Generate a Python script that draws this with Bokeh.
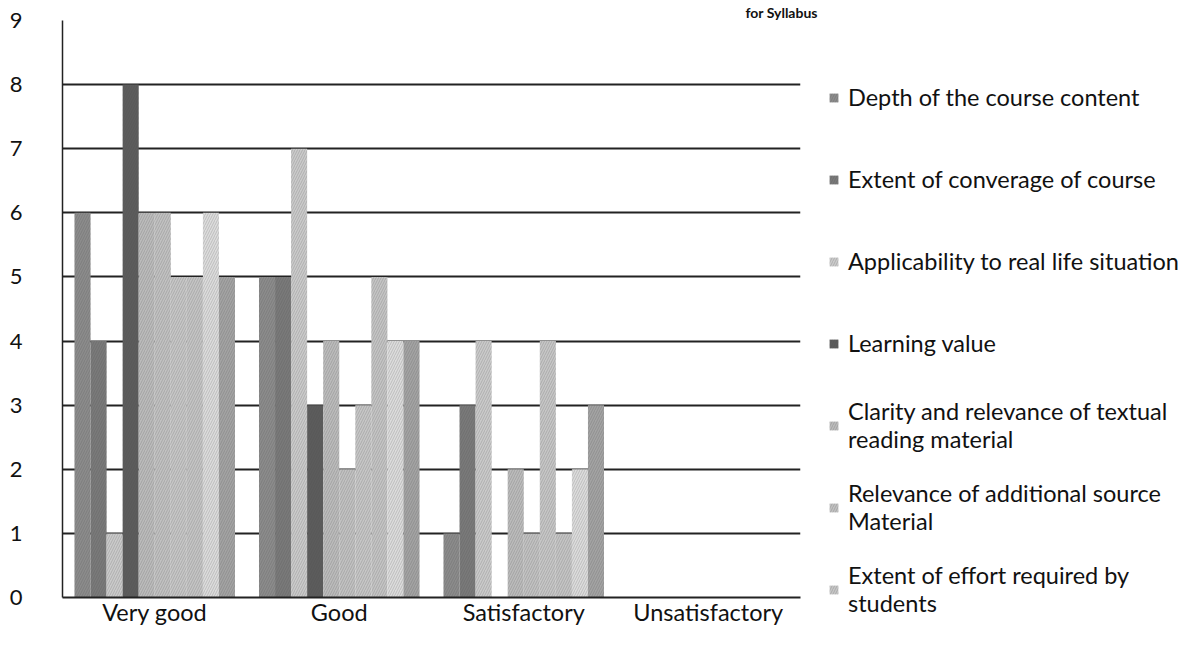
from bokeh.plotting import figure
from bokeh.models import FactorRange, FixedTicker, Legend, LegendItem, Title, ColumnDataSource
from bokeh.transform import dodge
from bokeh.embed import file_html
from bokeh.resources import INLINE

categories = ["Very good", "Good", "Satisfactory", "Unsatisfactory"]

series_names = [
    "Depth of the course content",
    "Extent of converage of course",
    "Applicability to real life situation",
    "Learning value",
    "Clarity and relevance of textual\nreading material",
    "Relevance of additional source\nMaterial",
    "Extent of effort required by\nstudents",
    "Series 8",
    "Series 9",
    "Series 10",
]

s1 = [6, 5, 1, 0]
s2 = [4, 5, 3, 0]
s3 = [1, 7, 4, 0]
s4 = [8, 3, 0, 0]
s5 = [6, 4, 2, 0]
s6 = [6, 2, 1, 0]
s7 = [5, 3, 4, 0]
s8 = [5, 5, 1, 0]
s9 = [6, 4, 2, 0]
s10 = [5, 4, 3, 0]

series_values = [s1, s2, s3, s4, s5, s6, s7, s8, s9, s10]
legend_count = 7

colors = ["#8c8c8c", "#7a7a7a", "#cbcbcb", "#5c5c5c", "#bcbcbc",
          "#c2c2c2", "#c7c7c7", "#c5c5c5", "#dddddd", "#a4a4a4"]
ticks = [0, 1, 2, 3, 4, 5, 6, 7, 8, 9]

FONT = "Lato"

p = figure(
    x_range=FactorRange(*categories, range_padding=0),
    y_range=(0, 9),
    frame_width=738,
    frame_height=577,
    output_backend="svg",
    toolbar_location=None,
    min_border_left=62,
    min_border_top=20,
    min_border_bottom=10,
    min_border_right=370,
)
p.outline_line_color = None
p.background_fill_color = "white"
p.border_fill_color = "white"

data = {"cat": categories}
for i, vals in enumerate(series_values):
    data[f"s{i}"] = vals
source = ColumnDataSource(data)

n = len(series_values)
bw = 0.087
renderers = []
for i in range(n):
    off = (i - (n - 1) / 2) * bw
    r = p.vbar(
        x=dodge("cat", off, range=p.x_range),
        top=f"s{i}",
        width=bw,
        source=source,
        fill_color=colors[i],
        line_color=None,
        hatch_pattern="right_diagonal_line",
        hatch_color="#4a4a4a",
        hatch_alpha=0.22,
        hatch_scale=5,
        hatch_weight=1,
    )
    renderers.append(r)

# axes
p.yaxis.ticker = FixedTicker(ticks=ticks)
p.yaxis.major_tick_line_color = None
p.yaxis.minor_tick_line_color = None
p.yaxis.major_tick_out = 0
p.yaxis.major_tick_in = 0
p.yaxis.major_label_standoff = 40
p.yaxis.axis_line_color = "#222222"
p.yaxis.axis_line_width = 1.5
p.yaxis.major_label_text_font = FONT
p.yaxis.major_label_text_font_size = "22px"
p.yaxis.major_label_text_color = "#111111"

p.xaxis.major_tick_line_color = None
p.xaxis.minor_tick_line_color = None
p.xaxis.major_tick_out = 0
p.xaxis.major_tick_in = 0
p.xaxis.major_label_standoff = 0
p.xaxis.axis_line_color = "#222222"
p.xaxis.axis_line_width = 2
p.xaxis.major_label_text_font = FONT
p.xaxis.major_label_text_font_size = "23.5px"
p.xaxis.major_label_text_color = "#111111"

p.xgrid.grid_line_color = None
p.ygrid.ticker = FixedTicker(ticks=ticks)
p.ygrid.grid_line_color = "#222222"
p.ygrid.grid_line_width = 1.8

items = [LegendItem(label=series_names[i], renderers=[renderers[i]]) for i in range(legend_count)]
legend = Legend(
    items=items,
    location=(28, -20),
    glyph_width=11,
    glyph_height=11,
    label_standoff=9,
    label_height=56,
    spacing=26,
    padding=0,
    margin=0,
    border_line_color=None,
    background_fill_alpha=0,
    label_text_font=FONT,
    label_text_font_size="23.5px",
    label_text_line_height=1.05,
    label_text_color="#111111",
)
p.add_layout(legend, "right")

title_frag = Title(
    text="for Syllabus", align="left", offset=683, standoff=0,
    text_font=FONT, text_font_style="bold", text_font_size="14px",
    text_color="#111111",
)
p.add_layout(title_frag, "above")

open("out.html", "w").write(file_html(p, INLINE))
